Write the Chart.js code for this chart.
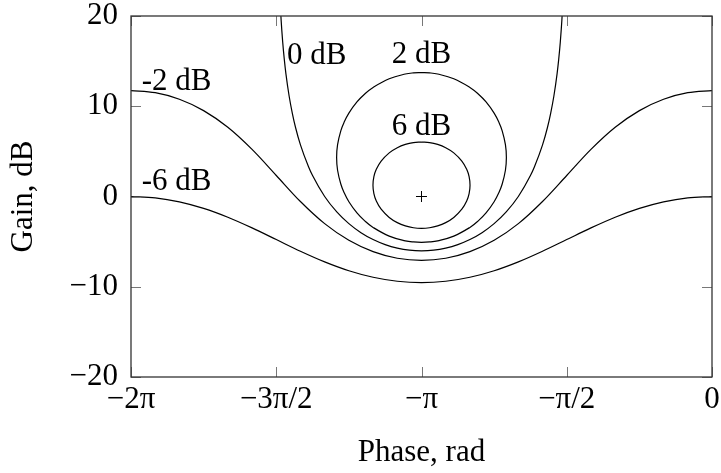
<!DOCTYPE html>
<html>
<head>
<meta charset="utf-8">
<title>Nichols chart</title>
<script src="https://cdn.jsdelivr.net/npm/chart.js@4.4.0/dist/chart.umd.min.js"></script>
<style>
body { margin: 0; background: #fff; }
.khung { width: 721px; height: 473px; }
</style>
</head>
<body>
<div class="khung"><canvas id="bieuDo"></canvas></div>
<script>
// phase (rad) for the two open contours, every pi/12 from -2pi to 0
var phaseFull = [-6.2832, -6.021, -5.760, -5.498, -5.236, -4.974, -4.712, -4.451, -4.189, -3.927, -3.665, -3.403, -3.1416,
	-2.880, -2.618, -2.356, -2.094, -1.833, -1.571, -1.309, -1.047, -0.785, -0.524, -0.262, 0];
var gainMinus6 = [0, -0.148, -0.592, -1.317, -2.297, -3.479, -4.771, -6.064, -7.244, -8.226, -8.951, -9.393, -9.542,
	-9.393, -8.951, -8.226, -7.244, -6.064, -4.771, -3.479, -2.297, -1.317, -0.592, -0.148, 0];
var gainMinus2 = [11.738, 11.500, 10.772, 9.514, 7.667, 5.216, 2.330, -0.557, -3.008, -4.855, -6.110, -6.845, -7.082,
	-6.845, -6.110, -4.855, -3.008, -0.557, 2.330, 5.216, 7.667, 9.514, 10.772, 11.500, 11.738];

// 0 dB contour (goes off the top of the plot on both sides)
var phaseZero = [-4.6775, -4.6600, -4.6426, -4.6251, -4.6077, -4.5728, -4.5379, -4.5030, -4.4506, -4.3633, -4.3197,
	-4.1888, -4.0579, -3.9270, -3.7961, -3.6652, -3.5343, -3.4034, -3.2725, -3.1416,
	-3.0107, -2.8798, -2.7489, -2.6180, -2.4871, -2.3562, -2.2253, -2.0944, -1.9635, -1.9199,
	-1.8326, -1.7802, -1.7453, -1.7104, -1.6755, -1.6581, -1.6406, -1.6232, -1.6057];
var gainZero = [23.12, 19.60, 17.11, 15.17, 13.59, 11.11, 9.19, 7.62, 5.72, 3.30, 2.32,
	0.00, -1.71, -3.01, -4.01, -4.77, -5.33, -5.72, -5.95, -6.02,
	-5.95, -5.72, -5.33, -4.77, -4.01, -3.01, -1.71, 0.00, 2.32, 3.30,
	5.72, 7.62, 9.19, 11.11, 13.59, 15.17, 17.11, 19.60, 23.12];

// 6 dB closed contour, clockwise from the top
var phaseSix = [-3.1416, -3.0543, -2.9671, -2.8798, -2.7925, -2.7053, -2.6529, -2.6267, -2.6168,
	-2.6267, -2.6529, -2.7053, -2.7925, -2.8798, -2.9671, -3.0543, -3.1416,
	-3.2289, -3.3161, -3.4034, -3.4907, -3.5779, -3.6303, -3.6565, -3.6664,
	-3.6565, -3.6303, -3.5779, -3.4907, -3.4034, -3.3161, -3.2289, -3.1416];
var gainSix = [6.041, 5.975, 5.770, 5.405, 4.832, 3.919, 3.006, 2.191, 1.256,
	0.321, -0.493, -1.406, -2.319, -2.892, -3.257, -3.462, -3.527,
	-3.462, -3.257, -2.892, -2.319, -1.406, -0.493, 0.321, 1.256,
	2.191, 3.006, 3.919, 4.832, 5.405, 5.770, 5.975, 6.041];

// 2 dB closed contour, clockwise from the top
var phaseTwo = [-3.1416, -3.0543, -2.9671, -2.7925, -2.6180, -2.5307, -2.4435, -2.3562, -2.3038, -2.2689, -2.2340, -2.2237,
	-2.2340, -2.2689, -2.3038, -2.3562, -2.4435, -2.5307, -2.6180, -2.7925, -2.9671, -3.0543, -3.1416,
	-3.2289, -3.3161, -3.4907, -3.6652, -3.7525, -3.8397, -3.9270, -3.9794, -4.0143, -4.0492, -4.0595,
	-4.0492, -4.0143, -3.9794, -3.9270, -3.8397, -3.7525, -3.6652, -3.4907, -3.3161, -3.2289, -3.1416];
var gainTwo = [13.736, 13.695, 13.569, 13.043, 12.083, 11.384, 10.476, 9.238, 8.210, 7.276, 5.753, 4.330,
	2.906, 1.382, 0.448, -0.580, -1.817, -2.726, -3.424, -4.385, -4.910, -5.037, -5.078,
	-5.037, -4.910, -4.385, -3.424, -2.726, -1.817, -0.580, 0.448, 1.382, 2.906, 4.330,
	5.753, 7.276, 8.210, 9.238, 10.476, 11.384, 12.083, 13.043, 13.569, 13.695, 13.736];

// the critical point
var criticalPhase = [-3.1416];
var criticalGain = [0];

var phaseTicks = [-2 * Math.PI, -1.5 * Math.PI, -Math.PI, -0.5 * Math.PI, 0];
var phaseTickLabels = ['\u22122\u03c0', '\u22123\u03c0/2', '\u2212\u03c0', '\u2212\u03c0/2', '0'];
var gainTicks = [-20, -10, 0, 10, 20];

var contourNames = ['0 dB', '2 dB', '6 dB', '-2 dB', '-6 dB'];
// where each name sits (phase, gain of the text baseline)
var contourNameAt = [
	{ x: -4.596, y: 14.73, align: 'left' },
	{ x: -3.1416, y: 14.76, align: 'center' },
	{ x: -3.1416, y: 6.78, align: 'center' },
	{ x: -6.167, y: 11.77, align: 'left' },
	{ x: -6.167, y: 0.69, align: 'left' }
];

var fontChu = '"Liberation Serif", "DejaVu Serif", serif';

function ghepDiem(xs, ys) {
	var ds = [];
	for (var i = 0; i < xs.length; i++) {
		ds.push({ x: xs[i], y: ys[i] });
	}
	return ds;
}

function duongCong(xs, ys, kieu) {
	var d = {
		data: ghepDiem(xs, ys),
		showLine: true,
		borderColor: '#000',
		borderWidth: 1.2,
		pointRadius: 0,
		fill: false
	};
	if (kieu == 'ham') {
		d.cubicInterpolationMode = 'monotone';
	} else {
		d.tension = 0.4;
	}
	return d;
}

// frame, inward ticks and contour names
var khungVaNhan = {
	id: 'khungVaNhan',
	afterDatasetsDraw: function (chart) {
		var ctx = chart.ctx;
		var a = chart.chartArea;
		var sx = chart.scales.x;
		var sy = chart.scales.y;
		var dai = 10;
		ctx.save();
		ctx.strokeStyle = '#777';
		ctx.lineWidth = 1;
		ctx.beginPath();
		phaseTicks.forEach(function (v) {
			var px = Math.round(sx.getPixelForValue(v)) + 0.5;
			ctx.moveTo(px, a.bottom);
			ctx.lineTo(px, a.bottom - dai);
			ctx.moveTo(px, a.top);
			ctx.lineTo(px, a.top + dai);
		});
		gainTicks.forEach(function (v) {
			var py = Math.round(sy.getPixelForValue(v)) + 0.5;
			ctx.moveTo(a.left, py);
			ctx.lineTo(a.left + dai, py);
			ctx.moveTo(a.right, py);
			ctx.lineTo(a.right - dai, py);
		});
		ctx.stroke();

		ctx.strokeStyle = '#333';
		ctx.lineWidth = 1.3;
		ctx.strokeRect(a.left, a.top, a.right - a.left, a.bottom - a.top);

		ctx.fillStyle = '#000';
		ctx.font = '31px ' + fontChu;
		ctx.textBaseline = 'alphabetic';
		contourNames.forEach(function (ten, i) {
			var p = contourNameAt[i];
			ctx.textAlign = p.align;
			ctx.fillText(ten, sx.getPixelForValue(p.x), sy.getPixelForValue(p.y));
		});
		ctx.restore();
	}
};

var canvas = document.getElementById('bieuDo');
var config = {
	type: 'scatter',
	data: {
		datasets: [
			duongCong(phaseFull, gainMinus6, 'ham'),
			duongCong(phaseFull, gainMinus2, 'ham'),
			duongCong(phaseZero, gainZero, 'ham'),
			duongCong(phaseTwo, gainTwo, 'vong'),
			duongCong(phaseSix, gainSix, 'vong'),
			{
				data: ghepDiem(criticalPhase, criticalGain),
				pointStyle: 'cross',
				pointRadius: 5.5,
				borderColor: '#000',
				borderWidth: 1,
				showLine: false
			}
		]
	},
	options: {
		responsive: true,
		maintainAspectRatio: false,
		animation: false,
		elements: { line: { capBezierPoints: false } },
		layout: { padding: { top: 16, right: 9, left: 0, bottom: 0 } },
		plugins: {
			legend: { display: false },
			tooltip: { enabled: false }
		},
		scales: {
			x: {
				type: 'linear',
				min: -2 * Math.PI,
				max: 0,
				grid: { display: false, drawTicks: false, tickLength: 0 },
				border: { display: false },
				afterBuildTicks: function (scale) {
					scale.ticks = phaseTicks.map(function (v) { return { value: v }; });
				},
				afterFit: function (scale) {
					scale.height = 96;
					scale.paddingLeft = 0;
					scale.paddingRight = 0;
				},
				ticks: {
					padding: 7,
					maxRotation: 0,
					autoSkip: false,
					color: '#000',
					font: { family: fontChu, size: 31, lineHeight: 1 },
					callback: function (value, index) {
						return phaseTickLabels[index];
					}
				},
				title: {
					display: true,
					text: 'Phase, rad',
					color: '#000',
					padding: { top: 0, bottom: 2 },
					font: { family: fontChu, size: 31, lineHeight: 1.2 }
				}
			},
			y: {
				type: 'linear',
				min: -20,
				max: 20,
				grid: { display: false, drawTicks: false, tickLength: 0 },
				border: { display: false },
				afterBuildTicks: function (scale) {
					scale.ticks = gainTicks.map(function (v) { return { value: v }; });
				},
				afterFit: function (scale) {
					scale.width = 131;
					scale.paddingTop = 0;
					scale.paddingBottom = 0;
				},
				ticks: {
					padding: 13,
					color: '#000',
					font: { family: fontChu, size: 31, lineHeight: 1 },
					callback: function (value) {
						return value < 0 ? '\u2212' + Math.abs(value) : String(value);
					}
				},
				title: {
					display: true,
					text: 'Gain, dB',
					color: '#000',
					padding: { top: 5, bottom: 0 },
					font: { family: fontChu, size: 31, lineHeight: 1.2 }
				}
			}
		}
	},
	plugins: [khungVaNhan]
};

var bieuDo = new Chart(canvas.getContext('2d'), config);
</script>
</body>
</html>
